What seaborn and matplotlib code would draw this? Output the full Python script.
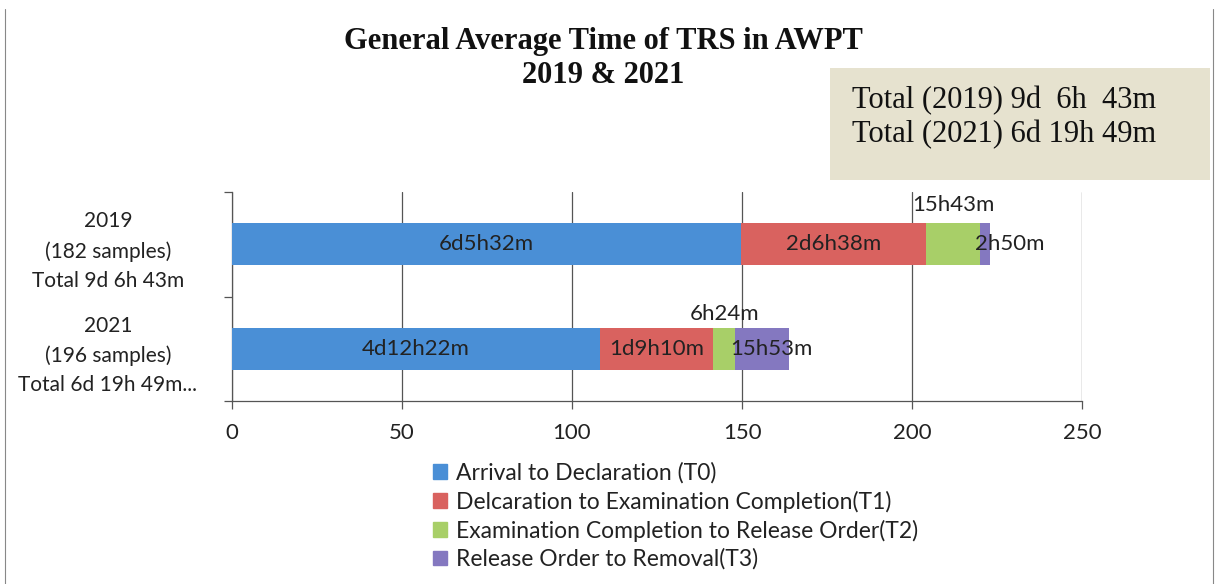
import matplotlib
matplotlib.use("Agg")
import matplotlib.pyplot as plt
import matplotlib.patches as mpatches
import numpy as np
import seaborn as sns

# ---- data (hours) ----
categories = ["2019\n(182 samples)\nTotal 9d 6h 43m",
              "2021\n(196 samples)\nTotal 6d 19h 49m..."]
series_names = ["Arrival to Declaration (T0)",
                "Delcaration to Examination Completion(T1)",
                "Examination Completion to Release Order(T2)",
                "Release Order to Removal(T3)"]
t0 = [149.53, 108.37]
t1 = [54.63, 33.17]
t2 = [15.72, 6.40]
t3 = [2.83, 15.88]
t0_labels = ["6d5h32m", "4d12h22m"]
t1_labels = ["2d6h38m", "1d9h10m"]
t2_labels = ["15h43m", "6h24m"]
t3_labels = ["2h50m", "15h53m"]
x_ticks = [0, 50, 100, 150, 200, 250]
box_lines = ["Total (2019) 9d  6h  43m", "Total (2021) 6d 19h 49m"]
title = "General Average Time of TRS in AWPT\n2019 & 2021"

colors = ["#4a8fd6", "#d9625f", "#a8cf68", "#8478c0"]

sns.set_theme(style="white")
plt.rcParams["font.family"] = ["Lato", "DejaVu Sans"]

fig = plt.figure(figsize=(12.19, 5.84), dpi=100)
ax = fig.add_axes([0.190, 0.313, 0.698, 0.358])

segs = np.array([t0, t1, t2, t3])
cum = np.cumsum(segs, axis=0)
starts = cum - segs

# draw cumulative bars from longest to shortest so each segment shows
for i in reversed(range(4)):
    sns.barplot(x=cum[i], y=categories, color=colors[i], width=0.4,
                orient="h", ax=ax, saturation=1, edgecolor="none", zorder=3)

fs = 15
fsl = 16
txtc = "#222222"
t2_off = [0.38, 0.33]
for j in range(2):
    for i, labs in [(0, t0_labels), (1, t1_labels)]:
        ax.text(starts[i][j] + segs[i][j] / 2, j, labs[j], ha="center",
                va="center", fontsize=fsl, color=txtc, zorder=5)
    ax.text(starts[2][j] + segs[2][j] / 2, j - t2_off[j], t2_labels[j], ha="center",
            va="center", fontsize=fsl, color=txtc, zorder=5)
    ax.text(starts[3][j] - 1.5, j, t3_labels[j], ha="left", va="center",
            fontsize=fsl, color=txtc, zorder=5)

ax.set_xlim(0, 250)
ax.set_ylim(1.5, -0.5)
ax.set_xticks(x_ticks)
ax.set_xticklabels([str(v) for v in x_ticks], fontsize=fs + 1, color=txtc)
ax.set_xlabel("")
ax.set_ylabel("")
ax.grid(axis="x", color="#555555", linewidth=0.9, zorder=0)
ax.grid(axis="y", visible=False)
ax.set_axisbelow(True)
for s in ["top", "right"]:
    ax.spines[s].set_visible(False)
for s in ["left", "bottom"]:
    ax.spines[s].set_color("#555555")
    ax.spines[s].set_linewidth(0.9)

ax.tick_params(axis="x", length=6, width=0.9, color="#555555", bottom=True, pad=10)
ax.set_yticks([-0.5, 0.5, 1.5], minor=True)
ax.tick_params(axis="y", which="minor", length=6, width=0.9, color="#555555", left=True)
ax.tick_params(axis="y", which="major", length=0, pad=89)
for lbl in ax.get_yticklabels():
    lbl.set_ha("center")
    lbl.set_multialignment("center")
    lbl.set_fontsize(fs)
    lbl.set_color(txtc)
    lbl.set_linespacing(1.58)

# title
fig.text(0.495, 0.900, title, ha="center", va="center", fontsize=22,
         fontweight="bold", family="Liberation Serif", color="#111111",
         linespacing=1.25)

# total box
fig.patches.append(mpatches.Rectangle((0.681, 0.692), 0.312, 0.192,
                                      transform=fig.transFigure,
                                      facecolor="#e6e2cf", edgecolor="none"))
fig.text(0.699, 1 - 101 / 584, box_lines[0], ha="left", va="center",
         fontsize=22, family="Liberation Serif", color="#111111")
fig.text(0.699, 1 - 135 / 584, box_lines[1], ha="left", va="center",
         fontsize=22, family="Liberation Serif", color="#111111")

# frame (left and right edges)
fig.add_artist(plt.Line2D([0.004, 0.004], [0.0, 0.985], transform=fig.transFigure,
                          color="#888888", linewidth=0.8))
fig.add_artist(plt.Line2D([0.995, 0.995], [0.0, 0.985], transform=fig.transFigure,
                          color="#888888", linewidth=0.8))

handles = [mpatches.Patch(color=c) for c in colors]
leg = fig.legend(handles, series_names, loc="upper left",
                 bbox_to_anchor=(0.342, 0.236), frameon=False, fontsize=16.5,
                 handlelength=0.6, handleheight=0.6, handletextpad=0.4,
                 labelspacing=0.3, borderpad=0.2)
for t in leg.get_texts():
    t.set_color(txtc)

fig.savefig("out.png", dpi=100)
